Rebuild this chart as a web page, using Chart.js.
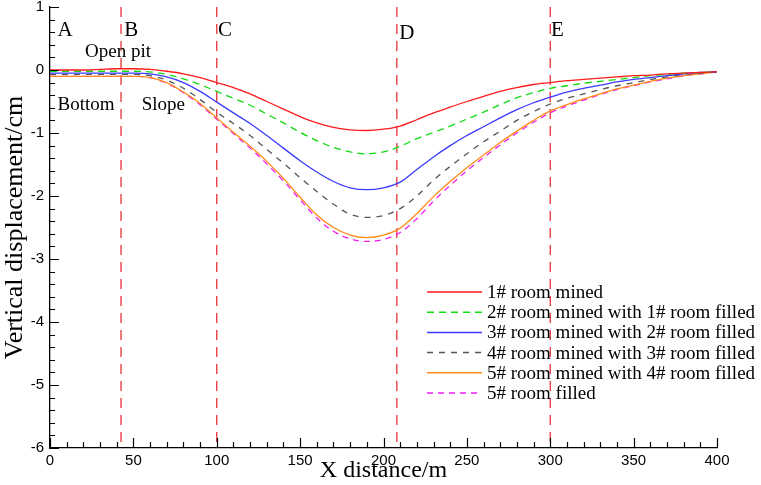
<!DOCTYPE html>
<html>
<head>
<meta charset="utf-8">
<script src="https://cdn.jsdelivr.net/npm/chart.js@4.4.1/dist/chart.umd.min.js"></script>
<style>
  html, body { margin: 0; padding: 0; background: #fff; }
  #wrap { width: 761px; height: 485px; }
</style>
</head>
<body>
<div id="wrap"><canvas id="c"></canvas></div>
<script>
// x positions (m)
const xs = [0, 10, 20, 30, 40, 50, 60, 70, 80, 90, 100, 110, 120, 130, 140, 150, 160, 170, 180, 190, 200,
            210, 220, 230, 240, 250, 260, 270, 280, 290, 300, 310, 320, 330, 340, 350, 360, 370, 380, 390, 400];

// vertical displacement (cm)
const room1Mined = [0, 0, 0, 0.01, 0.02, 0.02, 0.01, -0.02, -0.06, -0.12, -0.2, -0.28, -0.38, -0.5, -0.62, -0.74, -0.84, -0.91, -0.95, -0.96, -0.94,
                    -0.89, -0.79, -0.68, -0.59, -0.5, -0.42, -0.34, -0.28, -0.23, -0.2, -0.17, -0.15, -0.13, -0.11, -0.09, -0.08, -0.06, -0.05, -0.04, -0.03];
const room2Mined = [-0.02, -0.02, -0.02, -0.02, -0.02, -0.02, -0.03, -0.07, -0.14, -0.23, -0.34, -0.45, -0.56, -0.7, -0.84, -0.99, -1.12, -1.23, -1.3, -1.33, -1.3,
                    -1.21, -1.09, -0.99, -0.89, -0.78, -0.67, -0.55, -0.44, -0.36, -0.29, -0.25, -0.21, -0.18, -0.15, -0.12, -0.09, -0.07, -0.05, -0.04, -0.03];
const room3Mined = [-0.05, -0.05, -0.05, -0.05, -0.05, -0.05, -0.06, -0.11, -0.2, -0.34, -0.51, -0.68, -0.85, -1.04, -1.24, -1.44, -1.62, -1.77, -1.87, -1.9, -1.87,
                    -1.78, -1.58, -1.38, -1.2, -1.04, -0.9, -0.76, -0.63, -0.52, -0.43, -0.35, -0.29, -0.24, -0.19, -0.15, -0.12, -0.09, -0.06, -0.04, -0.03];
const room4Mined = [-0.07, -0.07, -0.07, -0.07, -0.07, -0.07, -0.09, -0.16, -0.29, -0.47, -0.67, -0.85, -1.04, -1.26, -1.48, -1.71, -1.93, -2.13, -2.29, -2.34, -2.31,
                    -2.2, -2.0, -1.75, -1.53, -1.33, -1.14, -0.97, -0.8, -0.66, -0.54, -0.45, -0.38, -0.31, -0.25, -0.2, -0.15, -0.11, -0.07, -0.05, -0.03];
const room5Mined = [-0.1, -0.1, -0.1, -0.1, -0.1, -0.1, -0.12, -0.2, -0.35, -0.53, -0.76, -0.99, -1.21, -1.45, -1.72, -2.02, -2.3, -2.5, -2.62, -2.66, -2.62,
                    -2.51, -2.28, -2.01, -1.77, -1.55, -1.35, -1.15, -0.97, -0.8, -0.65, -0.55, -0.46, -0.38, -0.3, -0.24, -0.18, -0.13, -0.09, -0.06, -0.03];
const room5Filled = [-0.1, -0.1, -0.1, -0.1, -0.1, -0.1, -0.12, -0.21, -0.36, -0.55, -0.78, -1.01, -1.24, -1.49, -1.76, -2.06, -2.35, -2.56, -2.68, -2.72, -2.69,
                     -2.58, -2.36, -2.08, -1.83, -1.6, -1.39, -1.19, -1.0, -0.83, -0.68, -0.57, -0.48, -0.39, -0.31, -0.25, -0.19, -0.14, -0.09, -0.06, -0.03];

const seriesLabels = ['1# room mined', '2# room mined with 1# room filled', '3# room mined with 2# room filled',
                      '4# room mined with 3# room filled', '5# room mined with 4# room filled', '5# room filled'];

// section boundaries between A..E (m)
const sectionX = [42.6, 100, 208, 300];
const sectionNames = ['A', 'B', 'C', 'D', 'E'];
const yTicks = [1, 0, -1, -2, -3, -4, -5, -6];
const xTicks = [0, 50, 100, 150, 200, 250, 300, 350, 400];

const serif = "'Liberation Serif', 'Times New Roman', serif";
const sans = "'Liberation Sans', Arial, sans-serif";

function pts(vals) {
  return xs.map(function (x, i) { return { x: x, y: vals[i] }; });
}

function curve(label, vals, color, dash) {
  return {
    label: label,
    data: pts(vals),
    borderColor: color,
    borderWidth: 1.3,
    borderDash: dash,
    pointRadius: 0,
    cubicInterpolationMode: 'monotone',
    fill: false
  };
}

const datasets = [
  curve(seriesLabels[0], room1Mined, '#ff1a1a', []),
  curve(seriesLabels[1], room2Mined, '#10dd10', [7, 5]),
  curve(seriesLabels[2], room3Mined, '#3b3bff', []),
  curve(seriesLabels[3], room4Mined, '#555555', [6, 6]),
  curve(seriesLabels[4], room5Mined, '#ff8c1a', []),
  curve(seriesLabels[5], room5Filled, '#f020f0', [6, 5])
];

sectionX.forEach(function (x) {
  datasets.push({
    label: '',
    isMarker: true,
    data: [{ x: x, y: 1 }, { x: x, y: -6 }],
    borderColor: '#e8303a',
    borderWidth: 1.3,
    borderDash: [10, 7],
    pointRadius: 0
  });
});

// inward major/minor ticks, text notes and legend
const decorations = {
  id: 'decorations',
  afterDraw: function (chart) {
    const ctx = chart.ctx;
    const sx = chart.scales.x, sy = chart.scales.y;
    const a = chart.chartArea;
    ctx.save();
    ctx.strokeStyle = '#000';
    ctx.lineWidth = 1.2;
    ctx.beginPath();
    for (let v = sx.min; v <= sx.max + 1e-6; v += 10) {
      const px = Math.round(sx.getPixelForValue(v)) + 0.5;
      const len = (Math.round(v) % 50 === 0) ? 10 : 6;
      ctx.moveTo(px, a.bottom);
      ctx.lineTo(px, a.bottom - len);
    }
    for (let i = 0; i <= 35; i++) {
      const v = sy.min + i * 0.2;
      const py = Math.round(sy.getPixelForValue(v)) + 0.5;
      const len = (i % 5 === 0) ? 9 : 5;
      ctx.moveTo(a.left, py);
      ctx.lineTo(a.left + len, py);
    }
    ctx.stroke();

    // section letters
    ctx.fillStyle = '#000';
    ctx.textBaseline = 'middle';
    ctx.textAlign = 'left';
    ctx.font = '21px ' + serif;
    const letterX = [4.5, 44.5, 100.8, 209.5, 300.5];
    const letterY = [0.62, 0.62, 0.62, 0.58, 0.62];
    sectionNames.forEach(function (n, i) {
      ctx.fillText(n, sx.getPixelForValue(letterX[i]), sy.getPixelForValue(letterY[i]));
    });
    ctx.font = '19px ' + serif;
    ctx.fillText('Open pit', sx.getPixelForValue(21), sy.getPixelForValue(0.28));
    ctx.fillText('Bottom', sx.getPixelForValue(4.5), sy.getPixelForValue(-0.56));
    ctx.fillText('Slope', sx.getPixelForValue(55), sy.getPixelForValue(-0.56));

    // legend
    ctx.font = '19px ' + serif;
    const lx = 427, tx = 487, ly0 = 292, step = 20.2;
    chart.data.datasets.forEach(function (ds, i) {
      if (ds.isMarker) return;
      const y = ly0 + i * step;
      ctx.strokeStyle = ds.borderColor;
      ctx.lineWidth = 1.5;
      ctx.setLineDash(ds.borderDash || []);
      ctx.beginPath();
      ctx.moveTo(lx, y);
      ctx.lineTo(482, y);
      ctx.stroke();
      ctx.setLineDash([]);
      ctx.fillStyle = '#000';
      ctx.fillText(ds.label, tx, y + 1);
    });
    ctx.restore();
  }
};

new Chart(document.getElementById('c'), {
  type: 'line',
  data: { datasets: datasets },
  plugins: [decorations],
  options: {
    responsive: true,
    maintainAspectRatio: false,
    animation: false,
    layout: { padding: { top: 7, right: 44, left: 0, bottom: 0 } },
    plugins: {
      legend: { display: false },
      tooltip: { enabled: false }
    },
    scales: {
      x: {
        type: 'linear',
        min: 0,
        max: 400,
        afterBuildTicks: function (s) { s.ticks = xTicks.map(function (v) { return { value: v }; }); },
        afterFit: function (s) { s.height = 37; },
        ticks: { color: '#000', font: { family: sans, size: 15 }, padding: 4, maxRotation: 0 },
        grid: { display: true, drawOnChartArea: false, drawTicks: false },
        border: { display: true, color: '#000', width: 1.3 },
        title: { display: true, text: 'X distance/m', color: '#000', font: { family: serif, size: 24 }, padding: { top: 0, bottom: 0 } }
      },
      y: {
        type: 'linear',
        min: -6,
        max: 1,
        afterBuildTicks: function (s) { s.ticks = yTicks.map(function (v) { return { value: v }; }); },
        afterFit: function (s) { s.width = 50; s.paddingTop = 0; s.paddingBottom = 0; },
        ticks: { color: '#000', font: { family: sans, size: 15 }, padding: 6 },
        grid: { display: true, drawOnChartArea: false, drawTicks: false },
        border: { display: true, color: '#000', width: 1.3 },
        title: { display: true, text: 'Vertical displacement/cm', color: '#000', font: { family: serif, size: 26 }, padding: { top: 0, bottom: 0 } }
      }
    }
  }
});
</script>
</body>
</html>
